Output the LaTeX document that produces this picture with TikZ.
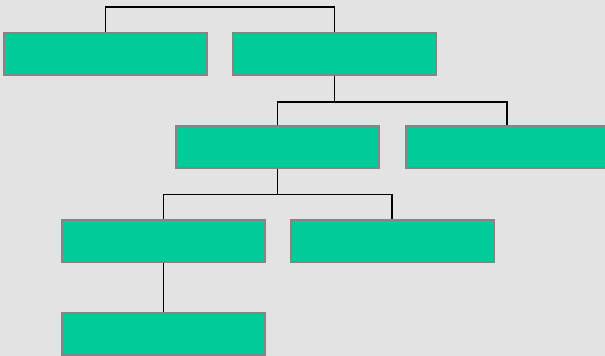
\documentclass[tikz,border=0pt]{standalone}
\definecolor{boxgreen}{HTML}{00CC99}
\definecolor{boxedge}{HTML}{858585}
\definecolor{pagegray}{HTML}{E3E3E3}
\tikzset{
	orgbox/.style={rectangle, fill=boxgreen, draw=boxedge, line width=2pt, minimum width=203pt, minimum height=42pt, inner sep=0pt},
	link/.style={draw=black, line width=1.6pt}
}
\begin{document}
\begin{tikzpicture}[x=1pt, y=-1pt]
	\fill[pagegray] (0,0) rectangle (605,356);
	\useasboundingbox (0,0) rectangle (605,356);
	\node[orgbox] (sales) at (105.5,54) {};
	\node[orgbox] (ops) at (334.5,54) {};
	\node[orgbox] (plant) at (277.5,147) {};
	\node[orgbox] (depot) at (507,147) {};
	\node[orgbox] (line) at (163.5,240.5) {};
	\node[orgbox] (stock) at (392,240.5) {};
	\node[orgbox] (shift) at (163.5,334) {};
	\coordinate (topbar) at (220,7);
	\draw[link] (sales.north) |- (topbar) -| (ops.north);
	\draw[link] (ops.south) -- ++(0,26) coordinate (opsbar) -| (plant.north);
	\draw[link] (opsbar) -| (depot.north);
	\draw[link] (plant.south) -- ++(0,25.5) coordinate (plantbar) -| (line.north);
	\draw[link] (plantbar) -| (stock.north);
	\draw[link] (line.south) -- (shift.north);
\end{tikzpicture}
\end{document}
